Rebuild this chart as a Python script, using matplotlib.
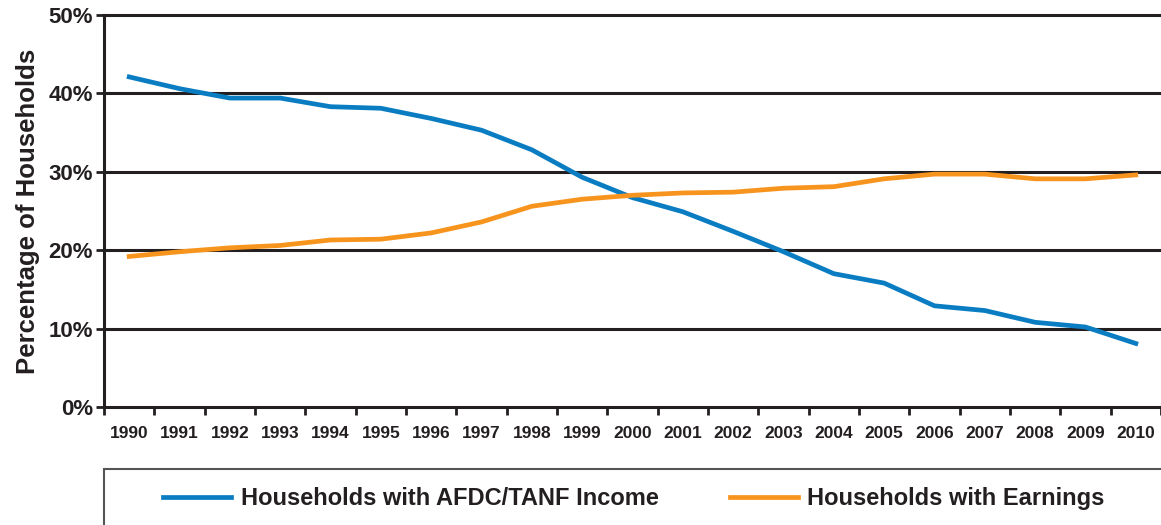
import numpy as np
import matplotlib.pyplot as plt
from matplotlib.patches import Rectangle

plt.rcParams['font.family'] = ['Liberation Sans', 'DejaVu Sans']

years = [str(y) for y in range(1990, 2011)]
afdc_tanf = [42.1, 40.6, 39.4, 39.4, 38.3, 38.1, 36.8, 35.3, 32.8, 29.3, 26.7,
             24.9, 22.4, 19.8, 17.0, 15.8, 12.9, 12.3, 10.8, 10.2, 8.1]
earnings = [19.2, 19.8, 20.3, 20.6, 21.3, 21.4, 22.2, 23.6, 25.6, 26.5, 27.0,
            27.3, 27.4, 27.9, 28.1, 29.1, 29.7, 29.7, 29.1, 29.1, 29.6]
y_ticks = [0, 10, 20, 30, 40, 50]

blue = '#0a7dc2'
orange = '#f7941d'
dark = '#231f20'

fig = plt.figure(figsize=(11.61, 5.25), dpi=100)
ax = fig.add_axes([0.0896, 0.2248, 0.9104, 0.7467])

x = np.arange(len(years))
ax.plot(x, afdc_tanf, color=blue, lw=3.4, solid_joinstyle='miter',
        label='Households with AFDC/TANF Income', zorder=3)
ax.plot(x, earnings, color=orange, lw=3.4, solid_joinstyle='miter',
        label='Households with Earnings', zorder=3)

ax.set_xlim(-0.5, len(years) - 0.5)
ax.set_ylim(0, 50)
ax.set_yticks(y_ticks)
ax.set_yticklabels([f'{v}%' for v in y_ticks], fontsize=16, fontweight='bold', color=dark)
for v in y_ticks[1:]:
    ax.axhline(v, color=dark, lw=2.2, zorder=1, clip_on=False)

# ticks between categories, labels at centres
ax.set_xticks(np.arange(len(years) + 1) - 0.5)
ax.set_xticklabels([])
ax.set_xticks(x, minor=True)
ax.set_xticklabels(years, minor=True, fontsize=12.5, fontweight='bold', color=dark)
ax.tick_params(axis='x', which='minor', length=0, pad=14)
ax.tick_params(axis='x', which='major', length=6, width=2, color=dark)
ax.tick_params(axis='y', length=6, width=2, color=dark, pad=2)

for s in ['top', 'right']:
    ax.spines[s].set_visible(False)
for s in ['left', 'bottom']:
    ax.spines[s].set_color(dark)
    ax.spines[s].set_linewidth(2.2)

ax.set_ylabel('Percentage of Households', fontsize=18.5, fontweight='bold', color=dark, labelpad=6)

# legend box
fig.patches.append(Rectangle((0.0896, -0.02), 0.92, 0.127, transform=fig.transFigure,
                             fill=False, edgecolor='#555555', lw=1.5))
leg = fig.legend(loc='center', bbox_to_anchor=(0.546, 0.05), ncol=2, frameon=False,
                 handlelength=2.9, columnspacing=3.0, handletextpad=0.4,
                 prop={'size': 17, 'weight': 'bold'})
for t in leg.get_texts():
    t.set_color(dark)

fig.savefig('out.png', dpi=100)
